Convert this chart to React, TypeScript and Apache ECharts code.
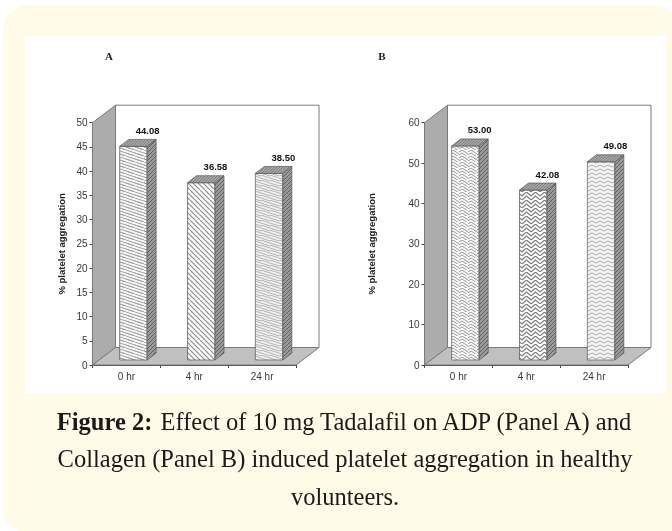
import React, { useEffect, useRef } from "react";
import * as echarts from "echarts";

const categories = ["0 hr", "4 hr", "24 hr"];
const panelAValues = [44.08, 36.58, 38.5];
const panelBValues = [53.0, 42.08, 49.08];
const panelALabels = ["44.08", "36.58", "38.50"];
const panelBLabels = ["53.00", "42.08", "49.08"];
const yAxisName = "% platelet aggregation";
const captionLines = [
  "{b|Figure 2:} Effect of 10 mg Tadalafil on ADP (Panel A) and",
  "Collagen (Panel B) induced platelet aggregation in healthy",
  "volunteers.",
];

const WALL_DX = 23, WALL_DY = 17.5;
const BAR_SHIFT_X = 7, BAR_SHIFT_Y = 5;
const BAR_W = 27.5, BAR_DX = 9, BAR_DY = 7;

function tile(w: number, h: number, bg: string, color: string, lw: number, segs: number[][]) {
  const c = document.createElement("canvas");
  c.width = w; c.height = h;
  const g = c.getContext("2d")!;
  g.fillStyle = bg; g.fillRect(0, 0, w, h);
  g.strokeStyle = color; g.lineWidth = lw;
  for (const s of segs) { g.beginPath(); g.moveTo(s[0], s[1]); for (let i = 2; i < s.length; i += 2) g.lineTo(s[i], s[i + 1]); g.stroke(); }
  return { image: c, repeat: "repeat" } as any;
}

function makePatterns() {
  const a0 = tile(9, 6, "#f6f6f6", "#a4a4a4", 1, [[0, 0, 9, 3], [0, 3, 9, 6], [-9, 0, 9, 6]]);
  const a1 = tile(10, 10, "#fcfcfc", "#8a8a8a", 1.1, [[0, 0, 10, 10], [-5, 0, 5, 10], [5, 0, 15, 10]]);
  const a2 = tile(9, 5, "#f0f0f0", "#b4b4b4", 1, [[0, 0, 9, 3], [0, 3, 9, 6], [0, -2, 9, 1]]);
  const b0 = tile(9, 6, "#fafafa", "#989898", 1, [[0, 2, 3, 0, 6, 2, 9, 4], [0, 5, 3, 3, 6, 5, 9, 7]]);
  const b1 = tile(9, 8, "#fefefe", "#7c7c7c", 1.1, [[0, 4, 4.5, 0, 9, 4], [0, 8, 4.5, 4, 9, 8]]);
  const b2 = tile(8, 4, "#f4f4f4", "#ababab", 1, [[0, 1, 4, 3, 8, 1]]);
  const side = tile(4, 4, "#9a9a9a", "#606060", 1, [[0, 4, 4, 0], [-2, 2, 2, -2], [2, 6, 6, 2]]);
  const top = tile(3, 3, "#a4a4a4", "#808080", 1, [[0, 3, 3, 0]]);
  return { a: [a0, a1, a2], b: [b0, b1, b2], side, top };
}

function frameRender(_p: any, api: any) {
  const cs = (_p as any).coordSys;
  const x0 = cs.x, y0 = cs.y, x1 = cs.x + cs.width, y1 = cs.y + cs.height;
  const dx = WALL_DX, dy = WALL_DY;
  const stroke = "#7a7a7a";
  return {
    type: "group",
    children: [
      { type: "polygon", shape: { points: [[x0 + dx, y0 - dy], [x1 + dx, y0 - dy], [x1 + dx, y1 - dy], [x0 + dx, y1 - dy]] }, style: { fill: "#ffffff", stroke, lineWidth: 1 } },
      { type: "polygon", shape: { points: [[x0, y0], [x0 + dx, y0 - dy], [x0 + dx, y1 - dy], [x0, y1]] }, style: { fill: "#acacac", stroke, lineWidth: 1 } },
      { type: "polygon", shape: { points: [[x0, y1], [x0 + dx, y1 - dy], [x1 + dx, y1 - dy], [x1, y1]] }, style: { fill: "#c0c0c0", stroke, lineWidth: 1 } },
    ],
  };
}

function barRender(fills: any[], labels: string[], P: any) {
  return (params: any, api: any) => {
    const i = params.dataIndex;
    const top = api.coord([i, api.value(1)]);
    const base = api.coord([i, 0]);
    const xl = top[0] + BAR_SHIFT_X - BAR_W / 2, xr = xl + BAR_W;
    const yt = top[1] - BAR_SHIFT_Y, yb = base[1] - BAR_SHIFT_Y;
    const stroke = "#555555";
    return {
      type: "group",
      children: [
        { type: "polygon", shape: { points: [[xl, yt], [xr, yt], [xr, yb], [xl, yb]] }, style: { fill: fills[i], stroke, lineWidth: 0.7 } },
        { type: "polygon", shape: { points: [[xr, yt], [xr + BAR_DX, yt - BAR_DY], [xr + BAR_DX, yb - BAR_DY], [xr, yb]] }, style: { fill: P.side, stroke, lineWidth: 0.7 } },
        { type: "polygon", shape: { points: [[xl, yt], [xl + BAR_DX, yt - BAR_DY], [xr + BAR_DX, yt - BAR_DY], [xr, yt]] }, style: { fill: P.top, stroke, lineWidth: 0.7 } },
        { type: "text", x: xr + 0.5, y: yt - 16, style: { text: labels[i], fill: "#111111", font: "bold 9.5px 'Liberation Sans'", align: "center", verticalAlign: "middle" } },
      ],
    };
  };
}

const axisColor = "#444444";
const labelStyle = { color: "#3a3a3a", fontFamily: "Liberation Sans", fontSize: 10 };
const CAPTION_SIZE = 24.5;

export default function App() {
  const ref = useRef<HTMLDivElement>(null);
  useEffect(() => {
    const chart = echarts.init(ref.current!, undefined, { renderer: "svg" });
    const P = makePatterns();
    const grids = [
      { left: 92.5, top: 122.7, width: 203.5, height: 242.3 },
      { left: 424.5, top: 122.7, width: 203.5, height: 242.3 },
    ];
    const yAxis = (max: number, interval: number, gi: number, gap: number) => ({
      type: "value", gridIndex: gi, min: 0, max, interval,
      name: yAxisName, nameLocation: "middle", nameGap: gap, nameRotate: 90,
      nameTextStyle: { color: "#222222", fontFamily: "Liberation Sans", fontSize: 9.5, fontWeight: "bold" },
      axisLine: { show: true, lineStyle: { color: axisColor } },
      axisTick: { show: true, length: 3, lineStyle: { color: axisColor } },
      axisLabel: { ...labelStyle, margin: 5 },
      splitLine: { show: false },
    });
    const xAxis = (gi: number) => ({
      type: "category", gridIndex: gi, data: categories,
      axisLine: { show: true, lineStyle: { color: axisColor } },
      axisTick: { show: true, length: 3, lineStyle: { color: axisColor } },
      axisLabel: { ...labelStyle, margin: 6 },
    });
    const toData = (vals: number[]) => vals.map((v, i) => [i, v]);
    chart.setOption({
      animation: false,
      grid: grids,
      xAxis: [xAxis(0), xAxis(1)],
      yAxis: [yAxis(50, 5, 0, 26), yAxis(60, 10, 1, 48)],
      graphic: [
        { type: "rect", z: -10, shape: { x: 3, y: 5, width: 675, height: 400, r: [25, 25, 0, 0] }, style: { fill: "#fffbe8" } },
        { type: "rect", z: -10, shape: { x: 3, y: 400, width: 675, height: 132, r: [0, 0, 0, 22] }, style: { fill: "#fffbe8" } },
        { type: "rect", z: -9, shape: { x: 25, y: 36, width: 641, height: 357 }, style: { fill: "#ffffff" } },
        { type: "text", x: 109, y: 56, style: { text: "A", fill: "#222222", font: "bold 11px 'Liberation Serif'", align: "center", verticalAlign: "middle" } },
        { type: "text", x: 382, y: 56, style: { text: "B", fill: "#222222", font: "bold 11px 'Liberation Serif'", align: "center", verticalAlign: "middle" } },
        ...captionLines.map((t, i) => ({
          type: "text", x: 345, y: 421 + i * 37.5,
          style: {
            text: t, fill: "#1a1a1a", font: `${CAPTION_SIZE}px 'Liberation Serif'`, align: "center", verticalAlign: "middle",
            rich: { b: { font: `bold ${CAPTION_SIZE}px 'Liberation Serif'`, fill: "#1a1a1a" } },
          },
        })),
      ],
      series: [
        { type: "custom", xAxisIndex: 0, yAxisIndex: 0, z: 1, silent: true, data: [[0, 0]], renderItem: frameRender },
        { type: "custom", xAxisIndex: 1, yAxisIndex: 1, z: 1, silent: true, data: [[0, 0]], renderItem: frameRender },
        { type: "custom", xAxisIndex: 0, yAxisIndex: 0, z: 3, data: toData(panelAValues), renderItem: barRender(P.a, panelALabels, P) },
        { type: "custom", xAxisIndex: 1, yAxisIndex: 1, z: 3, data: toData(panelBValues), renderItem: barRender(P.b, panelBLabels, P) },
      ],
    });
    return () => chart.dispose();
  }, []);
  return <div ref={ref} style={{ position: "fixed", left: 0, top: 0, width: 672, height: 531, filter: "blur(0.6px)" }} />;
}
